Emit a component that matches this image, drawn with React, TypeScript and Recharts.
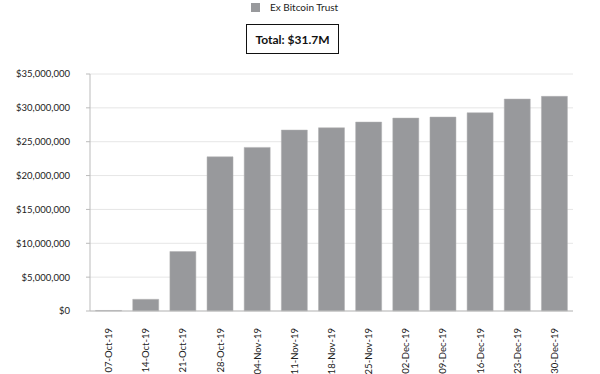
import { BarChart, Bar, XAxis, YAxis, CartesianGrid } from "recharts";

const weeks = [
  "07-Oct-19", "14-Oct-19", "21-Oct-19", "28-Oct-19", "04-Nov-19", "11-Nov-19", "18-Nov-19",
  "25-Nov-19", "02-Dec-19", "09-Dec-19", "16-Dec-19", "23-Dec-19", "30-Dec-19",
];
const holdings = [
  80000, 1730000, 8780000, 22770000, 24160000, 26720000, 27060000,
  27900000, 28490000, 28640000, 29280000, 31300000, 31700000,
];
const yTicks = [0, 5000000, 10000000, 15000000, 20000000, 25000000, 30000000, 35000000];
const seriesName = "Ex Bitcoin Trust";
const totalLabel = "Total: $31.7M";

const data = weeks.map((w, i) => ({ week: w, value: holdings[i] }));

const FONT = "Lato, 'DejaVu Sans', sans-serif";
const BAR = "#98999c";

const fmt = (v: number) => "$" + v.toLocaleString("en-US");

function XTick({ x, y, payload }: any) {
  return (
    <text
      x={x}
      y={y + 9}
      transform={`rotate(-90, ${x}, ${y + 9})`}
      textAnchor="end"
      dominantBaseline="central"
      fontSize={9.5}
      fontFamily={FONT}
      fill="#222"
    >
      {payload.value}
    </text>
  );
}

export default function App() {
  return (
    <div style={{ position: "absolute", left: 0, top: 0, width: 600, height: 374, background: "#fff", fontFamily: FONT }}>
      {/* legend */}
      <div style={{ position: "absolute", left: 251, top: 1, display: "flex", alignItems: "center", fontSize: 10, color: "#222" }}>
        <span style={{ width: 9, height: 9, background: BAR, display: "inline-block", marginRight: 10 }} />
        {seriesName}
      </div>
      {/* total box */}
      <div
        style={{
          position: "absolute", left: 246, top: 24, width: 91, height: 28,
          border: "1.5px solid #111", display: "flex", alignItems: "center", justifyContent: "center",
          fontSize: 12, fontWeight: 700, color: "#111",
        }}
      >
        {totalLabel}
      </div>
      <BarChart
        width={600}
        height={374}
        data={data}
        margin={{ top: 74, right: 27, bottom: 3, left: 0 }}
        barCategoryGap="15%"
      >
        <CartesianGrid vertical={false} stroke="#e6e6e6" />
        <XAxis
          dataKey="week"
          interval={0}
          height={60}
          tickLine={false}
          axisLine={{ stroke: "#bbb" }}
          tick={<XTick />}
        />
        <YAxis
          width={90}
          domain={[0, 35000000]}
          ticks={yTicks}
          tickFormatter={fmt}
          tickSize={4}
          tickMargin={16}
          axisLine={{ stroke: "#bbb" }}
          tickLine={{ stroke: "#bbb" }}
          tick={{ fontSize: 9.5, fill: "#222", fontFamily: FONT }}
        />
        <Bar dataKey="value" name={seriesName} fill={BAR} stroke="#b0b1b3" strokeWidth={0.5} isAnimationActive={false} />
      </BarChart>
    </div>
  );
}
